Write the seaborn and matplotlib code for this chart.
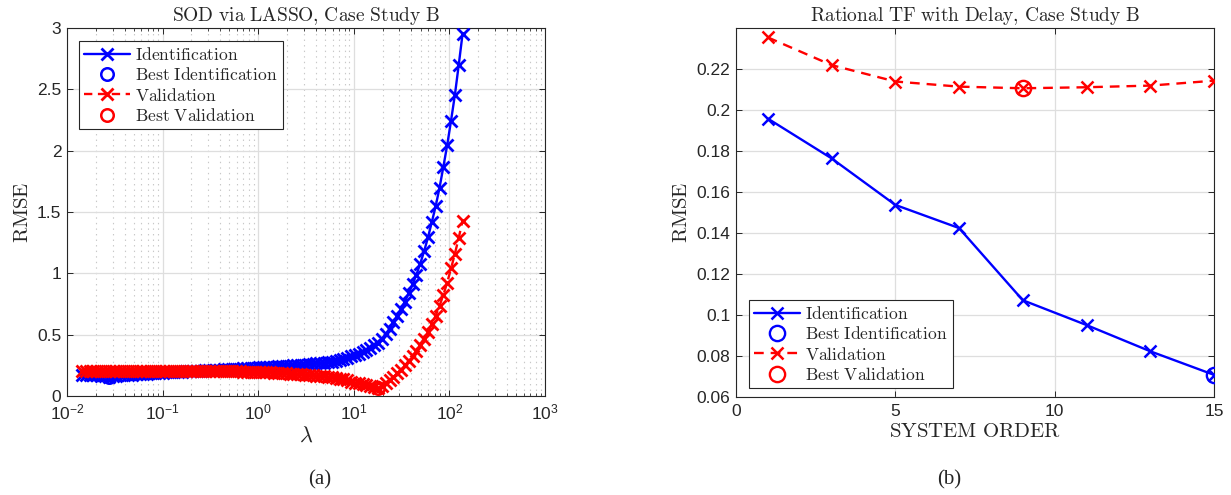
import numpy as np
import pandas as pd
import matplotlib
matplotlib.use("Agg")
import matplotlib.pyplot as plt
import seaborn as sns

# ---- LASSO sweep (panel a) ----
lambda_grid = np.logspace(-1.845, 2.138, 100)

rmse_ident_lasso = [
    0.175, 0.173, 0.172, 0.170, 0.168, 0.165, 0.162, 0.158, 0.163, 0.166,
    0.169, 0.171, 0.173, 0.175, 0.177, 0.179, 0.181, 0.183, 0.185, 0.186,
    0.188, 0.190, 0.192, 0.193, 0.195, 0.197, 0.198, 0.200, 0.202, 0.203,
    0.205, 0.207, 0.209, 0.210, 0.212, 0.214, 0.215, 0.217, 0.219, 0.220,
    0.222, 0.224, 0.226, 0.228, 0.229, 0.231, 0.233, 0.235, 0.236, 0.238,
    0.240, 0.242, 0.244, 0.246, 0.248, 0.250, 0.252, 0.254, 0.256, 0.259,
    0.262, 0.265, 0.268, 0.272, 0.276, 0.281, 0.287, 0.294, 0.305, 0.313,
    0.323, 0.334, 0.346, 0.360, 0.375, 0.392, 0.412, 0.436, 0.466, 0.505,
    0.550, 0.600, 0.650, 0.710, 0.770, 0.840, 0.910, 0.990, 1.080, 1.180,
    1.293, 1.418, 1.547, 1.697, 1.868, 2.046, 2.245, 2.455, 2.700, 2.954,
]

rmse_valid_lasso = [
    0.200, 0.201, 0.201, 0.202, 0.202, 0.203, 0.203, 0.203, 0.204, 0.204,
    0.204, 0.205, 0.205, 0.205, 0.205, 0.206, 0.206, 0.206, 0.206, 0.206,
    0.206, 0.206, 0.206, 0.206, 0.206, 0.206, 0.206, 0.206, 0.205, 0.205,
    0.205, 0.205, 0.204, 0.204, 0.204, 0.203, 0.203, 0.202, 0.202, 0.201,
    0.200, 0.200, 0.199, 0.198, 0.197, 0.196, 0.195, 0.194, 0.193, 0.192,
    0.190, 0.189, 0.187, 0.185, 0.183, 0.181, 0.179, 0.177, 0.175, 0.172,
    0.169, 0.166, 0.163, 0.159, 0.155, 0.151, 0.147, 0.142, 0.137, 0.131,
    0.118, 0.110, 0.102, 0.094, 0.086, 0.078, 0.070, 0.062, 0.080, 0.102,
    0.130, 0.155, 0.185, 0.215, 0.250, 0.285, 0.325, 0.365, 0.415, 0.465,
    0.525, 0.585, 0.655, 0.735, 0.825, 0.925, 1.040, 1.160, 1.290, 1.430,
]

# ---- rational transfer function sweep (panel b) ----
system_order = [1, 3, 5, 7, 9, 11, 13, 15]
rmse_ident_tf = [0.1958, 0.1764, 0.1537, 0.1424, 0.1072, 0.0951, 0.0823, 0.0708]
rmse_valid_tf = [0.2354, 0.2219, 0.2139, 0.2114, 0.2106, 0.2111, 0.2119, 0.2143]

lasso_df = pd.DataFrame({"lam": lambda_grid,
                         "ident": rmse_ident_lasso,
                         "valid": rmse_valid_lasso})
tf_df = pd.DataFrame({"order": system_order,
                      "ident": rmse_ident_tf,
                      "valid": rmse_valid_tf})

sns.set_theme(style="ticks")
plt.rcParams.update({
    "font.family": ["Liberation Sans", "DejaVu Sans"],
    "mathtext.fontset": "cm",
    "axes.edgecolor": "#262626",
    "axes.linewidth": 0.8,
    "xtick.direction": "in",
    "ytick.direction": "in",
    "xtick.top": True,
    "ytick.right": True,
    "xtick.color": "#262626",
    "ytick.color": "#262626",
    "xtick.labelsize": 12.5,
    "ytick.labelsize": 12.5,
    "xtick.major.size": 4,
    "ytick.major.size": 4,
    "xtick.minor.size": 2.2,
    "xtick.major.width": 0.7,
    "ytick.major.width": 0.7,
    "xtick.minor.width": 0.6,
    "xtick.major.pad": 5,
    "ytick.major.pad": 4,
    "lines.scale_dashes": False,
})

BLUE = "#0000ff"
RED = "#ff0000"
GRID = "#dedede"


def cm(text):
    return r"$\mathrm{" + text.replace(",", "{,}").replace(" ", r"\ ") + "}$"


fig = plt.figure(figsize=(12.31, 4.95), dpi=100)
W, H = 1231, 495
ax_a = fig.add_axes([67 / W, (H - 396) / H, 478 / W, 368 / H])
ax_b = fig.add_axes([736 / W, (H - 397) / H, 478 / W, 369 / H])

LEG = dict(fontsize=12.6, frameon=True, fancybox=False, edgecolor="#262626",
           framealpha=1, handlelength=2.6, handletextpad=0.3, borderpad=0.3,
           labelspacing=0.18)

# ---------------- panel (a) ----------------
ax_a.set_xscale("log")
sns.lineplot(data=lasso_df, x="lam", y="ident", ax=ax_a, color=BLUE,
             lw=1.7, marker="x", markersize=8, markeredgewidth=2.0,
             markeredgecolor=BLUE, label=cm("Identification"), zorder=3)
i_best = int(np.argmin(rmse_ident_lasso))
ax_a.plot(lambda_grid[i_best], rmse_ident_lasso[i_best], "o", ms=9,
          mfc="none", mec=BLUE, mew=1.8, label=cm("Best Identification"),
          zorder=4)
sns.lineplot(data=lasso_df, x="lam", y="valid", ax=ax_a, color=RED,
             lw=1.7, marker="x", markersize=8, markeredgewidth=2.0,
             markeredgecolor=RED, label=cm("Validation"), zorder=5)
ax_a.lines[-1].set_dashes((6, 4))
v_best = int(np.argmin(rmse_valid_lasso))
ax_a.plot(lambda_grid[v_best], rmse_valid_lasso[v_best], "o", ms=9,
          mfc="none", mec=RED, mew=1.8, label=cm("Best Validation"),
          zorder=6)

ax_a.set_xlim(1e-2, 1e3)
ax_a.set_ylim(0, 3)
ax_a.set_xticks([1e-2, 1e-1, 1e0, 1e1, 1e2, 1e3])
ax_a.set_xticklabels([r"$\mathregular{10^{%d}}$" % e for e in range(-2, 4)])
ax_a.set_yticks([0, 0.5, 1, 1.5, 2, 2.5, 3])
ax_a.set_yticklabels(["0", "0.5", "1", "1.5", "2", "2.5", "3"])
ax_a.grid(True, which="major", color=GRID, lw=0.9, ls="-")
ax_a.grid(True, which="minor", axis="x", color="#c8c8c8", lw=0.8,
          ls=(0, (1, 3)))
ax_a.set_axisbelow(True)
ax_a.set_title(cm("SOD via LASSO, Case Study B"), fontsize=14, pad=5)
ax_a.set_xlabel(r"$\lambda$", fontsize=16, labelpad=2)
ax_a.set_ylabel(cm("RMSE"), fontsize=15, labelpad=4)
leg_a = ax_a.legend(loc="upper left", bbox_to_anchor=(12 / 478, 1 - 13 / 368),
                    borderaxespad=0, **LEG)
leg_a.get_frame().set_linewidth(0.8)

# ---------------- panel (b) ----------------
sns.lineplot(data=tf_df, x="order", y="ident", ax=ax_b, color=BLUE,
             lw=1.7, marker="x", markersize=9, markeredgewidth=1.8,
             markeredgecolor=BLUE, label=cm("Identification"), zorder=3)
i_best_tf = int(np.argmin(rmse_ident_tf))
ax_b.plot(system_order[i_best_tf], rmse_ident_tf[i_best_tf], "o", ms=11,
          mfc="none", mec=BLUE, mew=1.7, label=cm("Best Identification"),
          zorder=4)
sns.lineplot(data=tf_df, x="order", y="valid", ax=ax_b, color=RED,
             lw=1.7, marker="x", markersize=9, markeredgewidth=1.8,
             markeredgecolor=RED, label=cm("Validation"), zorder=5)
ax_b.lines[-1].set_dashes((7, 5))
v_best_tf = int(np.argmin(rmse_valid_tf))
ax_b.plot(system_order[v_best_tf], rmse_valid_tf[v_best_tf], "o", ms=11,
          mfc="none", mec=RED, mew=1.7, label=cm("Best Validation"),
          zorder=6)

ax_b.set_xlim(0, 15)
ax_b.set_ylim(0.06, 0.24)
ax_b.set_xticks([0, 5, 10, 15])
ax_b.set_yticks([0.06, 0.08, 0.1, 0.12, 0.14, 0.16, 0.18, 0.2, 0.22])
ax_b.set_yticklabels(["0.06", "0.08", "0.1", "0.12", "0.14", "0.16",
                      "0.18", "0.2", "0.22"])
ax_b.grid(True, which="major", color=GRID, lw=0.9, ls="-")
ax_b.set_axisbelow(True)
ax_b.set_title(cm("Rational TF with Delay, Case Study B"), fontsize=14, pad=5)
ax_b.set_xlabel(cm("SYSTEM ORDER"), fontsize=15, labelpad=2)
ax_b.set_ylabel(cm("RMSE"), fontsize=15, labelpad=4)
leg_b = ax_b.legend(loc="lower left", bbox_to_anchor=(13 / 478, 9 / 369),
                    borderaxespad=0, **LEG)
leg_b.get_frame().set_linewidth(0.8)

for ax in (ax_a, ax_b):
    for s in ax.spines.values():
        s.set_visible(True)

fig.text(320 / W, 1 - 480 / H, "(a)", ha="center", va="center",
         fontsize=15, family=["Liberation Serif", "DejaVu Serif"])
fig.text(949 / W, 1 - 480 / H, "(b)", ha="center", va="center",
         fontsize=15, family=["Liberation Serif", "DejaVu Serif"])

fig.savefig("out.png", dpi=100, facecolor="white")
